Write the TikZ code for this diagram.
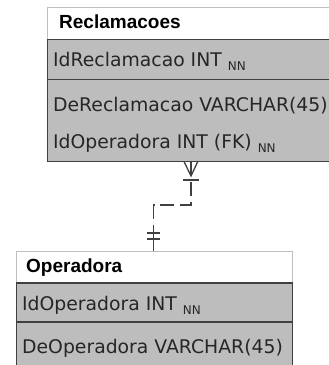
\documentclass[tikz,border=0pt]{standalone}
\usepackage{fontspec}
\setmainfont{DejaVu Sans}
\newfontfamily\hdrfont{Liberation Sans}
\newcommand{\nnmark}{\hspace{6pt}\raisebox{-4.5pt}{\fontsize{12}{12}\selectfont NN}}
\begin{document}
\begin{tikzpicture}[x=1pt,y=-1pt,
  hdrbox/.style={draw=black!25,line width=1pt,fill=white,anchor=north west,inner sep=0pt,outer sep=0pt},
  rowbox/.style={draw=black!75,line width=1.4pt,fill=black!26,anchor=north west,inner sep=0pt,outer sep=0pt},
  hdrtext/.style={anchor=base west,inner sep=0pt,font=\hdrfont\bfseries\fontsize{19}{19}\selectfont},
  rowtext/.style={anchor=base west,inner sep=0pt,font=\fontsize{18.8}{18.8}\selectfont,text=black!85},
  conn/.style={draw=black!75,line width=1.3pt}]
\useasboundingbox (0,0) rectangle (329,365);
\clip (0,0) rectangle (329,365);
% Reclamacoes table
\node[hdrbox,minimum width=290pt,minimum height=32pt] (rh) at (47.5,7.5) {};
\node[rowbox,minimum width=290pt,minimum height=40pt] (r1) at (47.5,39.5) {};
\node[rowbox,minimum width=290pt,minimum height=82pt] (r2) at (47.5,79.5) {};
\node[hdrtext] (rht) at (59,28) {Reclamacoes};
\node[rowtext] (r1t) at (53,66) {IdReclamacao INT\nnmark};
\node[rowtext] (r2a) at (53,111) {DeReclamacao VARCHAR(45)};
\node[rowtext] (r2b) at (53,148) {IdOperadora INT (FK)\nnmark};
% Operadora table
\node[hdrbox,minimum width=276pt,minimum height=32pt] (oh) at (16.5,251) {};
\node[rowbox,minimum width=276pt,minimum height=39pt] (o1) at (16.5,283) {};
\node[rowbox,minimum width=276pt,minimum height=50pt] (o2) at (16.5,322) {};
\node[hdrtext] (oht) at (26,272) {Operadora};
\node[rowtext] (o1t) at (22,310) {IdOperadora INT\nnmark};
\node[rowtext] (o2t) at (22,353) {DeOperadora VARCHAR(45)};
% connector
\coordinate (a) at (r2.south west -| 191,0);
\coordinate (apex) at (191,176);
\coordinate (b) at (oh.north west -| 153.5,0);
\draw[conn] (a) ++(-7,0) -- (apex) -- ++(7,-15);
\draw[conn] (a) -- (apex);
\draw[conn] (183,180) -- (199,180);
\draw[conn,dash pattern=on 14pt off 6pt,dash phase=-2pt] (191,180) -- (191,205) -- (153.5,205) -- (b);
\draw[conn] (147,233) -- (160,233);
\draw[conn] (147,239) -- (160,239);
\draw[conn] (153.5,233) -- (b);
\end{tikzpicture}
\end{document}
